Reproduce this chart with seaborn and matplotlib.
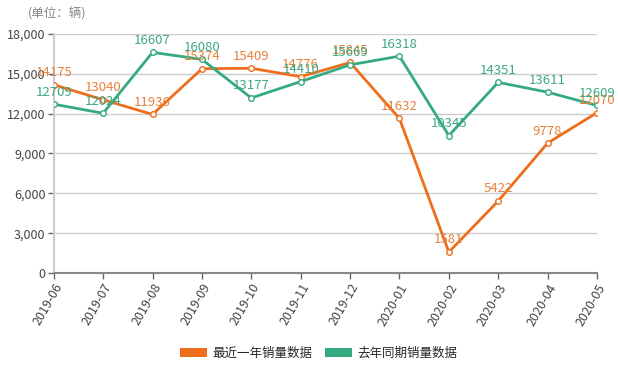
import pandas as pd
import numpy as np
import matplotlib.pyplot as plt
import seaborn as sns
from matplotlib.patches import Patch

months = ['2019-06', '2019-07', '2019-08', '2019-09', '2019-10', '2019-11',
          '2019-12', '2020-01', '2020-02', '2020-03', '2020-04', '2020-05']
recent_sales = [14175, 13040, 11936, 15374, 15409, 14776, 15845, 11632, 1581, 5422, 9778, 12070]
last_year_sales = [12709, 12024, 16607, 16080, 13177, 14410, 15669, 16318, 10345, 14351, 13611, 12609]
series_names = ['最近一年销量数据', '去年同期销量数据']
y_ticks = [0, 3000, 6000, 9000, 12000, 15000, 18000]

orange = '#EE6E1E'
green = '#35AA7E'

sns.set_theme(style='white')
plt.rcParams['font.family'] = ['Noto Sans CJK SC', 'DejaVu Sans']

fig = plt.figure(figsize=(6.18, 3.72), dpi=100)
ax = fig.add_axes([0.087, 0.266, 0.879, 0.643])

x = np.arange(len(months))
# draw each series on its own so the hollow markers keep the line colour
for vals, col, lab_col in [(recent_sales, orange, '#E8803A'), (last_year_sales, green, '#3DA883')]:
    sns.lineplot(x=x, y=vals, color=col, linewidth=2, marker='o', markersize=4,
                 markerfacecolor='white', markeredgecolor=col, markeredgewidth=1,
                 ax=ax, zorder=3)
    for i, v in enumerate(vals):
        ax.annotate(str(v), (i, v), xytext=(0, 4), textcoords='offset points',
                    ha='center', va='bottom', fontsize=9.5, color=lab_col, zorder=4)

ax.set_xlim(0, len(months) - 1)
ax.set_ylim(0, 18000)
ax.set_xticks(x)
ax.set_xticklabels(months, rotation=60, ha='right', rotation_mode='anchor',
                   fontsize=9, color='#444444')
ax.set_yticks(y_ticks)
ax.set_yticklabels([f'{t:,}' for t in y_ticks], fontsize=9, color='#444444')
ax.tick_params(axis='both', length=4, width=1, color='#666666', direction='out',
               bottom=True, left=True, pad=2)
ax.yaxis.grid(True, color='#cccccc', linewidth=1)
ax.xaxis.grid(False)
ax.set_xlabel('')
ax.set_ylabel('')
for s in ['top', 'right']:
    ax.spines[s].set_visible(False)
ax.spines['left'].set_color('#cccccc')
ax.spines['left'].set_linewidth(1.5)
ax.spines['bottom'].set_color('#888888')
ax.spines['bottom'].set_linewidth(1.5)

fig.text(0.045, 0.962, '(单位：辆)', fontsize=9, color='#888888', ha='left', va='center')

handles = [Patch(facecolor=orange, edgecolor='none'), Patch(facecolor=green, edgecolor='none')]
fig.legend(handles, series_names, loc='center', bbox_to_anchor=(0.515, 0.05), ncol=2,
           frameon=False, fontsize=9, handlelength=2.2, handleheight=0.8,
           handletextpad=0.4, columnspacing=1.0)

fig.savefig('out.png', dpi=100)
